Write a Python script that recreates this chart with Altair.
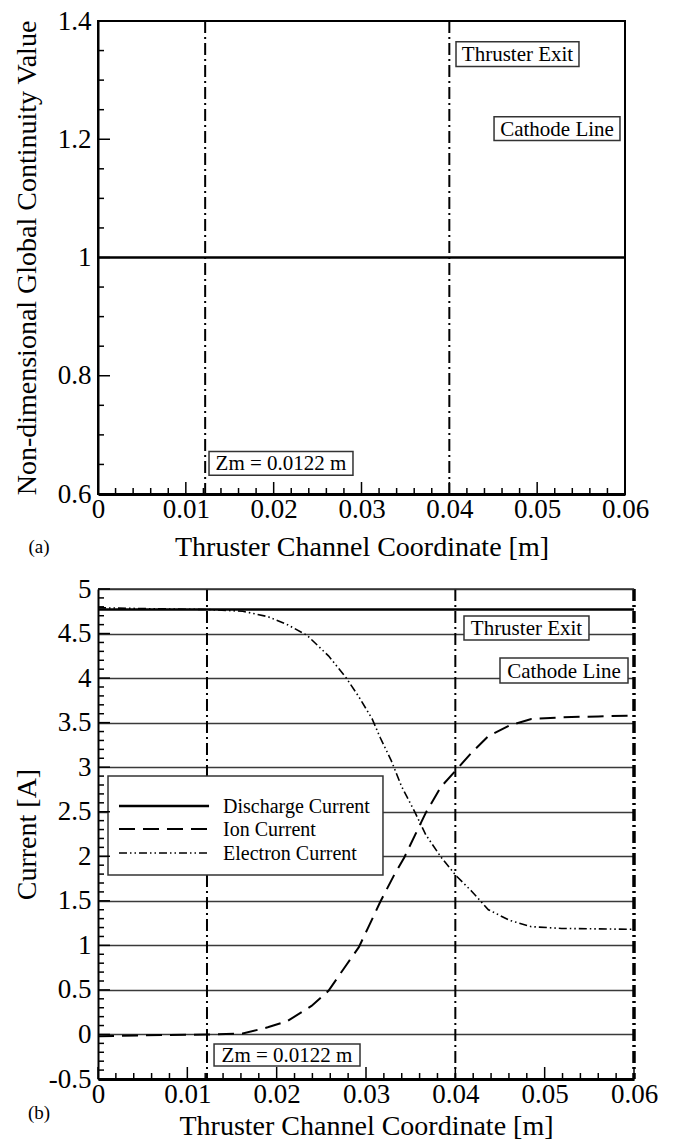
import altair as alt
import pandas as pd

FONT = "Liberation Serif"

# ---------------- data ----------------
x_major = [0, 0.01, 0.02, 0.03, 0.04, 0.05, 0.06]
x_minor = [0.002, 0.004, 0.006, 0.008, 0.012, 0.014, 0.016, 0.018,
           0.022, 0.024, 0.026, 0.028, 0.032, 0.034, 0.036, 0.038,
           0.042, 0.044, 0.046, 0.048, 0.052, 0.054, 0.056, 0.058]

top_y_major = [0.6, 0.8, 1, 1.2, 1.4]
top_y_minor = [0.65, 0.7, 0.75, 0.85, 0.9, 0.95, 1.05, 1.1, 1.15, 1.25, 1.3, 1.35]

bot_y_major = [-0.5, 0, 0.5, 1, 1.5, 2, 2.5, 3, 3.5, 4, 4.5, 5]
bot_y_minor = [-0.4, -0.3, -0.2, -0.1, 0.1, 0.2, 0.3, 0.4, 0.6, 0.7, 0.8, 0.9,
               1.1, 1.2, 1.3, 1.4, 1.6, 1.7, 1.8, 1.9, 2.1, 2.2, 2.3, 2.4,
               2.6, 2.7, 2.8, 2.9, 3.1, 3.2, 3.3, 3.4, 3.6, 3.7, 3.8, 3.9,
               4.1, 4.2, 4.3, 4.4, 4.6, 4.7, 4.8, 4.9]

marker_lines = [0.0122, 0.04]
cathode_x = [0.06]

cont_x = [0, 0.06]
cont_y = [1, 1]

dis_x = [0, 0.06]
dis_y = [4.77, 4.77]

ion_x = [0, 0.005, 0.0123, 0.0162, 0.019, 0.0212, 0.0239, 0.0258, 0.0278, 0.0292,
         0.0302, 0.0316, 0.0331, 0.0343, 0.0355, 0.0367, 0.0384, 0.0401, 0.0418,
         0.0437, 0.0461, 0.0485, 0.0519, 0.056, 0.06]
ion_y = [-0.02, -0.01, 0.0, 0.01, 0.08, 0.15, 0.32, 0.49, 0.78, 0.98,
         1.19, 1.49, 1.78, 1.99, 2.24, 2.49, 2.78, 2.97, 3.16,
         3.35, 3.47, 3.54, 3.56, 3.57, 3.58]

ele_x = [0, 0.005, 0.0123, 0.0162, 0.019, 0.0212, 0.0234, 0.0258, 0.0278, 0.0292,
         0.0307, 0.0316, 0.0328, 0.034, 0.0355, 0.0367, 0.0384, 0.0401, 0.0418,
         0.0437, 0.0461, 0.0485, 0.0519, 0.056, 0.06]
ele_y = [4.79, 4.78, 4.77, 4.75, 4.69, 4.60, 4.48, 4.25, 4.00, 3.79,
         3.54, 3.33, 3.08, 2.78, 2.49, 2.24, 1.99, 1.78, 1.61,
         1.40, 1.28, 1.21, 1.19, 1.185, 1.18]

legend_labels = ["Discharge Current", "Ion Current", "Electron Current"]

# ---------------- annotation anchors (data units) ----------------
top_boxes = pd.DataFrame({
    "label": ["Thruster Exit", "Cathode Line", "Zm = 0.0122 m"],
    "x0": [0.04076, 0.04509, 0.01264], "x1": [0.05476, 0.05943, 0.02903],
    "y0": [1.3649, 1.2380, 0.6718], "y1": [1.3232, 1.1979, 0.6317],
})
bot_boxes = pd.DataFrame({
    "label": ["Thruster Exit", "Cathode Line", "Zm = 0.0122 m"],
    "x0": [0.04097, 0.0450, 0.01299], "x1": [0.05496, 0.05933, 0.02933],
    "y0": [4.6969, 4.2255, -0.1071], "y1": [4.4276, 3.9449, -0.3541],
})
for b in (top_boxes, bot_boxes):
    b["xc"] = (b["x0"] + b["x1"]) / 2
    b["yc"] = (b["y0"] + b["y1"]) / 2

legend_box = pd.DataFrame({"x0": [0.00112], "x1": [0.0319], "y0": [2.901], "y1": [1.790]})
legend_rows_y = [2.564, 2.306, 2.037]
legend_line_x = (0.00235, 0.01243)
legend_text_x = 0.0140

DASHDOT = [12, 4, 2, 4]
STYLES = [
    dict(strokeWidth=2.5),
    dict(strokeWidth=2, strokeDash=[16, 8]),
    dict(strokeWidth=1.6, strokeDash=[8, 3, 1.5, 3, 1.5, 3]),
]

W1, H1 = 527, 473
W2, H2 = 536, 490


def xaxis(title_y):
    return alt.Axis(values=x_major, labelExpr="'' + datum.value",
                    title="Thruster Channel Coordinate [m]",
                    ticks=False, grid=False, domainColor="black", domainWidth=3,
                    labelPadding=2, labelOverlap=False, labelFlush=False,
                    titleY=title_y, titleBaseline="middle")


def yaxis(values, title, H, grid):
    kw = dict(values=values, labelExpr="'' + datum.value", title=title,
              ticks=False, grid=grid, domainColor="black", domainWidth=2,
              labelPadding=7, labelOverlap=False, labelFlush=False,
              titleX=-71, titleY=H / 2,
              titleBaseline="middle", titleAlign="center", titleAngle=270)
    if grid:
        kw.update(gridColor="#3a3a3a", gridWidth=1.5)
    return alt.Axis(**kw)


class Panel:
    def __init__(self, xs, ys, ax, ay):
        self.xs, self.ys, self.ax, self.ay = xs, ys, ax, ay

    def X(self, f):
        return alt.X(f, scale=self.xs, axis=self.ax)

    def Y(self, f):
        return alt.Y(f, scale=self.ys, axis=self.ay)


def ticks(p, H, xmaj, xmin, ymaj, ymin):
    out = []
    for vals, ln in ((xmaj, 12), (xmin, 6)):
        out.append(alt.Chart(pd.DataFrame({"x": vals})).mark_rule(color="black", strokeWidth=1.5).encode(
            x=p.X("x:Q"), y=alt.value(H), y2=alt.value(H - ln)))
    for vals, ln in ((ymaj, 12), (ymin, 6)):
        out.append(alt.Chart(pd.DataFrame({"y": vals})).mark_rule(color="black", strokeWidth=1.5).encode(
            y=p.Y("y:Q"), x=alt.value(0), x2=alt.value(ln)))
    return out


def boxes(df, p):
    r = alt.Chart(df).mark_rect(fill="white", stroke="#333", strokeWidth=1.5).encode(
        x=p.X("x0:Q"), x2="x1:Q", y=p.Y("y0:Q"), y2="y1:Q")
    t = alt.Chart(df).mark_text(font=FONT, fontSize=21, color="black", align="center",
                                baseline="middle", dy=1).encode(
        x=p.X("xc:Q"), y=p.Y("yc:Q"), text="label:N")
    return [r, t]


def caption(text, H, dy):
    return alt.Chart(alt.Data(values=[{"c": text}])).mark_text(
        font=FONT, fontSize=19, color="black", align="center", baseline="middle").encode(
        x=alt.value(-59), y=alt.value(H + dy), text="c:N")


# ---------------- panel (a) ----------------
p1 = Panel(alt.Scale(domain=[0, 0.06], nice=False, zero=False),
           alt.Scale(domain=[0.6, 1.4], nice=False, zero=False),
           xaxis(53),
           yaxis(top_y_major, "Non-dimensional Global Continuity Value", H1, False))

cont = alt.Chart(pd.DataFrame({"x": cont_x, "y": cont_y})).mark_line(
    color="black", strokeWidth=2.5).encode(x=p1.X("x:Q"), y=p1.Y("y:Q"))

vl1 = alt.Chart(pd.DataFrame({"x": marker_lines})).mark_rule(
    color="black", strokeWidth=2, strokeDash=DASHDOT).encode(x=p1.X("x:Q"))

top = alt.layer(
    cont, vl1, *boxes(top_boxes, p1),
    *ticks(p1, H1, x_major, x_minor, top_y_major, top_y_minor),
    caption("(a)", H1, 53),
).properties(width=W1, height=H1,
             view=alt.ViewBackground(stroke="black", strokeWidth=2))

# ---------------- panel (b) ----------------
p2 = Panel(alt.Scale(domain=[0, 0.06], nice=False, zero=False),
           alt.Scale(domain=[-0.5, 5], nice=False, zero=False),
           xaxis(47),
           yaxis(bot_y_major, "Current [A]", H2, True))

dis = alt.Chart(pd.DataFrame({"x": dis_x, "y": dis_y})).mark_line(color="black", **STYLES[0]).encode(
    x=p2.X("x:Q"), y=p2.Y("y:Q"))
ion = alt.Chart(pd.DataFrame({"x": ion_x, "y": ion_y})).mark_line(color="black", **STYLES[1]).encode(
    x=p2.X("x:Q"), y=p2.Y("y:Q"))
ele = alt.Chart(pd.DataFrame({"x": ele_x, "y": ele_y})).mark_line(color="black", **STYLES[2]).encode(
    x=p2.X("x:Q"), y=p2.Y("y:Q"))

vl2 = alt.Chart(pd.DataFrame({"x": marker_lines})).mark_rule(
    color="black", strokeWidth=2, strokeDash=DASHDOT).encode(x=p2.X("x:Q"))
cath = alt.Chart(pd.DataFrame({"x": cathode_x})).mark_rule(
    color="black", strokeWidth=3.5, strokeDash=DASHDOT).encode(x=p2.X("x:Q"))
top_border = alt.Chart(pd.DataFrame({"y": [5]})).mark_rule(
    color="#333", strokeWidth=1.5).encode(y=p2.Y("y:Q"), x=alt.value(0), x2=alt.value(W2))

leg_rect = alt.Chart(legend_box).mark_rect(fill="white", stroke="#333", strokeWidth=1.5).encode(
    x=p2.X("x0:Q"), x2="x1:Q", y=p2.Y("y0:Q"), y2="y1:Q")
leg_layers = [leg_rect]
for lab, yy, st in zip(legend_labels, legend_rows_y, STYLES):
    rowdf = pd.DataFrame({"x0": [legend_line_x[0]], "x1": [legend_line_x[1]],
                          "xt": [legend_text_x], "y": [yy], "label": [lab]})
    leg_layers.append(alt.Chart(rowdf).mark_rule(color="black", **st).encode(
        x=p2.X("x0:Q"), x2="x1:Q", y=p2.Y("y:Q")))
    leg_layers.append(alt.Chart(rowdf).mark_text(font=FONT, fontSize=20, color="black",
                                                 align="left", baseline="middle", dy=1).encode(
        x=p2.X("xt:Q"), y=p2.Y("y:Q"), text="label:N"))

bottom = alt.layer(
    dis, vl2, cath, ion, ele, top_border,
    *boxes(bot_boxes, p2), *leg_layers,
    *ticks(p2, H2, x_major, x_minor, bot_y_major, bot_y_minor),
    caption("(b)", H2, 34),
).properties(width=W2, height=H2,
             view=alt.ViewBackground(stroke="transparent"))

chart = alt.vconcat(top, bottom, spacing=12).properties(
    padding={"left": 3, "top": -2, "right": 5, "bottom": 0},
    background="white",
).configure_axis(
    labelFont=FONT, labelFontSize=27, labelColor="black",
    titleFont=FONT, titleFontSize=28, titleFontWeight="normal", titleColor="black",
).configure_text(font=FONT)

chart.save("out.html", embed_options={"renderer": "svg", "actions": False})
